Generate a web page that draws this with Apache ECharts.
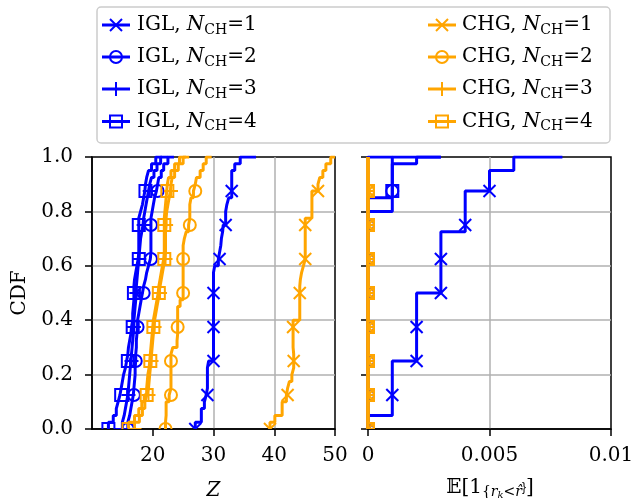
<!DOCTYPE html>
<html><head><meta charset="utf-8">
<script src="https://cdn.jsdelivr.net/npm/echarts@6/dist/echarts.min.js"></script>
<style>html,body{margin:0;padding:0;background:#fff}#c{width:636px;height:498px}</style>
</head><body><div id="c"></div>
<script>
// ---------- DATA ----------
// Each curve: 41 sorted sample values, CDF level = index/40
const N_STEPS = 40;
const markerIdx = [0, 5, 10, 15, 20, 25, 30, 35];
const seriesNames = ['IGL, N_CH=1','IGL, N_CH=2','IGL, N_CH=3','IGL, N_CH=4','CHG, N_CH=1','CHG, N_CH=2','CHG, N_CH=3','CHG, N_CH=4'];
// Left panel: Z
const zIGL1 = [27,28,28,28.5,28.8,29,29,29,29,29.2,30,30,30,30,30,30,30,30,30,30,30,30,30,30.2,30.8,31,31.2,31.3,31.5,31.6,32,32,32.2,32.5,33,33,33,33,33.5,34.4,37];
const zIGL2 = [15.9,16.2,16.4,16.6,16.8,16.9,17.0,17.1,17.1,17.2,17.2,17.3,17.3,17.4,17.5,17.5,17.7,17.9,18.1,18.3,18.5,18.8,19.0,19.3,19.6,19.7,19.7,19.7,19.7,19.7,19.7,19.9,20.1,20.3,20.6,20.8,21.0,21.4,21.8,22.5,23.5];
const zIGL3 = [15.0,15.3,15.5,15.7,15.9,16.0,16.1,16.2,16.3,16.4,16.5,16.6,16.7,16.8,16.9,16.9,17.0,17.1,17.2,17.3,17.3,17.4,17.5,17.6,17.7,17.8,17.9,18.0,18.2,18.4,18.5,18.7,18.9,19.1,19.3,19.5,19.8,20.2,20.7,21.3,22.5];
const zIGL4 = [12.7,13.5,14.0,14.3,14.6,14.8,15.0,15.2,15.5,15.7,15.9,16.0,16.2,16.4,16.5,16.7,16.7,16.8,16.9,16.9,16.9,17.0,17.2,17.4,17.6,17.7,17.7,17.7,17.7,17.7,17.7,18.0,18.3,18.5,18.7,18.8,19.0,19.3,19.8,20.5,21.5];
const zCHG1 = [39.3,40.1,41.3,41.3,42,42.2,42.5,42.9,43.2,43.2,43.2,43.1,43.1,43.1,43.1,43.1,44.2,44.2,44.2,44.2,44.2,44.3,44.5,44.8,45.1,45.1,45.1,45.1,45.1,45.1,45.1,46.2,46.2,46.2,46.2,47.2,47.5,48,48.5,49.3,50];
const zCHG2 = [22.1,22.2,22.2,22.2,22.7,23.0,23.0,23.0,23.0,23.0,23.0,23.3,24.0,24.1,24.1,24.1,24.1,24.1,24.5,25.0,25.0,25.0,25.0,25.0,25.0,25.0,25.0,25.2,25.5,25.9,26.1,26.1,26.1,26.3,26.7,27.0,27.2,27.8,28.3,28.8,29.7];
const zCHG3 = [17.0,17.8,18.3,18.7,19.0,19.3,19.4,19.5,19.6,19.7,19.8,19.9,20.0,20.1,20.2,20.3,20.5,20.7,20.9,21.0,21.2,21.4,21.6,21.8,22.0,22.1,22.1,22.1,22.1,22.2,22.2,22.3,22.5,22.7,22.9,23.0,23.2,23.6,24.2,25.0,26.0];
const zCHG4 = [16.0,17.0,17.7,18.2,18.6,19.0,19.1,19.2,19.4,19.5,19.6,19.7,19.8,19.9,20.0,20.1,20.3,20.5,20.7,20.9,21.0,21.2,21.4,21.6,21.8,21.9,21.9,21.9,21.9,21.9,21.9,22.0,22.1,22.2,22.3,22.4,22.6,23.0,23.6,24.4,25.5];
// Right panel: E[1{r_k < r^}]
const eIGL1 = [0,0,0.001,0.001,0.001,0.001,0.001,0.001,0.001,0.001,0.002,0.002,0.002,0.002,0.002,0.002,0.002,0.002,0.002,0.002,0.003,0.003,0.003,0.003,0.003,0.003,0.003,0.003,0.003,0.004,0.004,0.004,0.004,0.004,0.004,0.005,0.005,0.005,0.006,0.006,0.008];
const eIGL2 = [0,0,0,0,0,0,0,0,0,0,0,0,0,0,0,0,0,0,0,0,0,0,0,0,0,0,0,0,0,0,0,0,0.001,0.001,0.001,0.001,0.001,0.001,0.001,0.001,0.003];
const eIGL3 = [0,0,0,0,0,0,0,0,0,0,0,0,0,0,0,0,0,0,0,0,0,0,0,0,0,0,0,0,0,0,0,0,0,0,0,0,0,0,0,0,0.001];
const eIGL4 = [0,0,0,0,0,0,0,0,0,0,0,0,0,0,0,0,0,0,0,0,0,0,0,0,0,0,0,0,0,0,0,0,0,0,0.001,0.001,0.001,0.001,0.001,0.002,0.003];
const eCHG1 = [0,0,0,0,0,0,0,0,0,0,0,0,0,0,0,0,0,0,0,0,0,0,0,0,0,0,0,0,0,0,0,0,0,0,0,0,0,0,0,0,0];
const eCHG2 = [0,0,0,0,0,0,0,0,0,0,0,0,0,0,0,0,0,0,0,0,0,0,0,0,0,0,0,0,0,0,0,0,0,0,0,0,0,0,0,0,0];
const eCHG3 = [0,0,0,0,0,0,0,0,0,0,0,0,0,0,0,0,0,0,0,0,0,0,0,0,0,0,0,0,0,0,0,0,0,0,0,0,0,0,0,0,0];
const eCHG4 = [0,0,0,0,0,0,0,0,0,0,0,0,0,0,0,0,0,0,0,0,0,0,0,0,0,0,0,0,0,0,0,0,0,0,0,0,0,0,0,0,0];
// Tick labels
const zTicks = [20, 30, 40, 50];
const eTicks = [0, 0.005, 0.01];
const eTickLabels = ['0', '0.005', '0.01'];
const cdfTicks = [0, 0.2, 0.4, 0.6, 0.8, 1.0];

// ---------- STYLE ----------
const BLUE = '#0000ff', ORANGE = '#ffa500';
const FONT = 'DejaVu Serif';
const FS = 20;
const defs = [
  {z: zIGL1, e: eIGL1, color: BLUE, mk: 'x'},
  {z: zIGL2, e: eIGL2, color: BLUE, mk: 'o'},
  {z: zIGL3, e: eIGL3, color: BLUE, mk: '+'},
  {z: zIGL4, e: eIGL4, color: BLUE, mk: 's'},
  {z: zCHG1, e: eCHG1, color: ORANGE, mk: 'x'},
  {z: zCHG2, e: eCHG2, color: ORANGE, mk: 'o'},
  {z: zCHG3, e: eCHG3, color: ORANGE, mk: '+'},
  {z: zCHG4, e: eCHG4, color: ORANGE, mk: 's'}
];
const MS = 6, MLW = 2;
function markerShape(kind, x, y, color, s) {
  const st = {stroke: color, lineWidth: MLW, fill: 'none'};
  if (kind === 'x') return {type: 'group', children: [
    {type: 'line', shape: {x1: x - s, y1: y - s, x2: x + s, y2: y + s}, style: st},
    {type: 'line', shape: {x1: x - s, y1: y + s, x2: x + s, y2: y - s}, style: st}]};
  if (kind === '+') return {type: 'group', children: [
    {type: 'line', shape: {x1: x - s - 1, y1: y, x2: x + s + 1, y2: y}, style: st},
    {type: 'line', shape: {x1: x, y1: y - s - 1, x2: x, y2: y + s + 1}, style: st}]};
  if (kind === 'o') return {type: 'circle', shape: {cx: x, cy: y, r: s}, style: st};
  return {type: 'rect', shape: {x: x - s, y: y - s, width: 2 * s, height: 2 * s}, style: st};
}

const series = [];
defs.forEach((d, k) => {
  ['z', 'e'].forEach((key, gi) => {
    const vals = d[key];
    const pts = vals.map((v, i) => [v, i / N_STEPS]);
    series.push({
      type: 'line', name: seriesNames[k], xAxisIndex: gi, yAxisIndex: gi,
      data: pts, step: 'start', showSymbol: false, symbol: 'none', clip: true,
      lineStyle: {color: d.color, width: 3}, itemStyle: {color: d.color},
      z: 2 + k * 0.01, animation: false, silent: true
    });
    series.push({
      type: 'custom', xAxisIndex: gi, yAxisIndex: gi, clip: true, silent: true,
      data: markerIdx.map(i => pts[i]), encode: {x: 0, y: 1},
      renderItem: (params, api) => {
        const p = api.coord([api.value(0), api.value(1)]);
        return markerShape(d.mk, p[0], p[1], d.color, MS);
      },
      z: 3 + k * 0.01, animation: false
    });
  });
});

const tickStyle = {color: '#000', width: 1.5};
const splitStyle = {show: true, showMinLine: false, showMaxLine: false, lineStyle: {color: '#b0b0b0', width: 1.5}};
const lineStyleAx = {show: true, onZero: false, lineStyle: {color: '#000', width: 1.5}};

const gridTop = 157, gridH = 272;
const option = {
  backgroundColor: '#fff',
  animation: false,
  grid: [
    {left: 92, top: gridTop, width: 243, height: gridH, containLabel: false, outerBoundsMode: 'none', show: true, borderColor: '#000', borderWidth: 1.5, backgroundColor: 'transparent'},
    {left: 368, top: gridTop, width: 243, height: gridH, containLabel: false, outerBoundsMode: 'none', show: true, borderColor: '#000', borderWidth: 1.5, backgroundColor: 'transparent'}
  ],
  xAxis: [
    {type: 'value', gridIndex: 0, min: 10, max: 50, interval: 10,
      axisLine: lineStyleAx, splitLine: splitStyle,
      axisTick: {show: true, length: 7, customValues: zTicks, lineStyle: tickStyle},
      axisLabel: {color: '#000', fontFamily: FONT, fontSize: FS, margin: 17, customValues: zTicks, formatter: v => String(v)},
      name: 'Z', nameLocation: 'middle', nameGap: 52,
      nameTextStyle: {fontFamily: FONT, fontStyle: 'italic', fontSize: FS, color: '#000'}},
    {type: 'value', gridIndex: 1, min: 0, max: 0.01, interval: 0.005,
      axisLine: lineStyleAx, splitLine: splitStyle,
      axisTick: {show: true, length: 7, lineStyle: tickStyle},
      axisLabel: {color: '#000', fontFamily: FONT, fontSize: FS, margin: 17,
        formatter: v => eTickLabels[eTicks.findIndex(t => Math.abs(t - v) < 1e-9)]}}
  ],
  yAxis: [
    {type: 'value', gridIndex: 0, min: 0, max: 1, interval: 0.2,
      axisLine: lineStyleAx, splitLine: splitStyle,
      axisTick: {show: true, length: 7, lineStyle: tickStyle},
      axisLabel: {color: '#000', fontFamily: FONT, fontSize: FS, margin: 19, formatter: v => v.toFixed(1)},
      name: 'CDF', nameLocation: 'middle', nameGap: 62, nameRotate: 90,
      nameTextStyle: {fontFamily: FONT, fontSize: FS, color: '#000'}},
    {type: 'value', gridIndex: 1, min: 0, max: 1, interval: 0.2,
      axisLine: lineStyleAx, splitLine: splitStyle,
      axisTick: {show: true, length: 7, lineStyle: tickStyle},
      axisLabel: {show: false}}
  ],
  series: series,
  graphic: []
};

// ---------- LEGEND (drawn) ----------
const lg = [];
lg.push({type: 'rect', shape: {x: 97, y: 7, width: 513, height: 136, r: 4},
  style: {fill: 'rgba(255,255,255,0.8)', stroke: '#cccccc', lineWidth: 1.5}, z: 100});
const rowY = [25, 57, 89, 121.5];
const cols = [{lx: 102, mx: 116, tx: 137, label: 'IGL'}, {lx: 428, mx: 442, tx: 462, label: 'CHG'}];
const legRich = {
  n: {fontFamily: FONT, fontStyle: 'italic', fontSize: FS, lineHeight: 24, fill: '#000'},
  s: {fontFamily: FONT, fontSize: 14, lineHeight: 14, padding: [10, 0, 0, 0], fill: '#000'},
  r: {fontFamily: FONT, fontSize: FS, lineHeight: 24, fill: '#000'}
};
defs.forEach((d, k) => {
  const c = cols[k < 4 ? 0 : 1];
  const y = rowY[k % 4];
  lg.push({type: 'line', shape: {x1: c.lx, y1: y, x2: c.lx + 28, y2: y}, style: {stroke: d.color, lineWidth: 3}, z: 101});
  const m = markerShape(d.mk, c.mx, y, d.color, MS);
  m.z = 102;
  if (m.children) m.children.forEach(ch => ch.z = 102);
  lg.push(m);
  lg.push({type: 'text', x: c.tx, y: y, z: 103, style: {
    text: '{r|' + c.label + ', }{n|N}{s|CH}{r|=' + ((k % 4) + 1) + '}',
    rich: legRich, verticalAlign: 'middle', align: 'left', fill: '#000'}});
});
// right x-axis label  E[1_{r_k < r^}]
lg.push({type: 'text', x: 490, y: 488, z: 103, style: {
  text: '{r|\uD835\uDD3C[1}{s|{}{si|r}{ss|k}{s|<}{si|r\u0302}{s|}}{r|]}',
  align: 'center', verticalAlign: 'middle',
  rich: {
    r: {fontFamily: FONT, fontSize: FS, lineHeight: 24, fill: '#000'},
    s: {fontFamily: FONT, fontSize: 14, lineHeight: 14, padding: [9, 0, 0, 0], fill: '#000'},
    si: {fontFamily: FONT, fontStyle: 'italic', fontSize: 14, lineHeight: 14, padding: [9, 0, 0, 0], fill: '#000'},
    ss: {fontFamily: FONT, fontStyle: 'italic', fontSize: 10, lineHeight: 10, padding: [15, 0, 0, 0], fill: '#000'}
  }}});
option.graphic = lg;

const chart = echarts.init(document.getElementById('c'), null, {renderer: 'canvas'});
chart.setOption(option);
</script></body></html>
